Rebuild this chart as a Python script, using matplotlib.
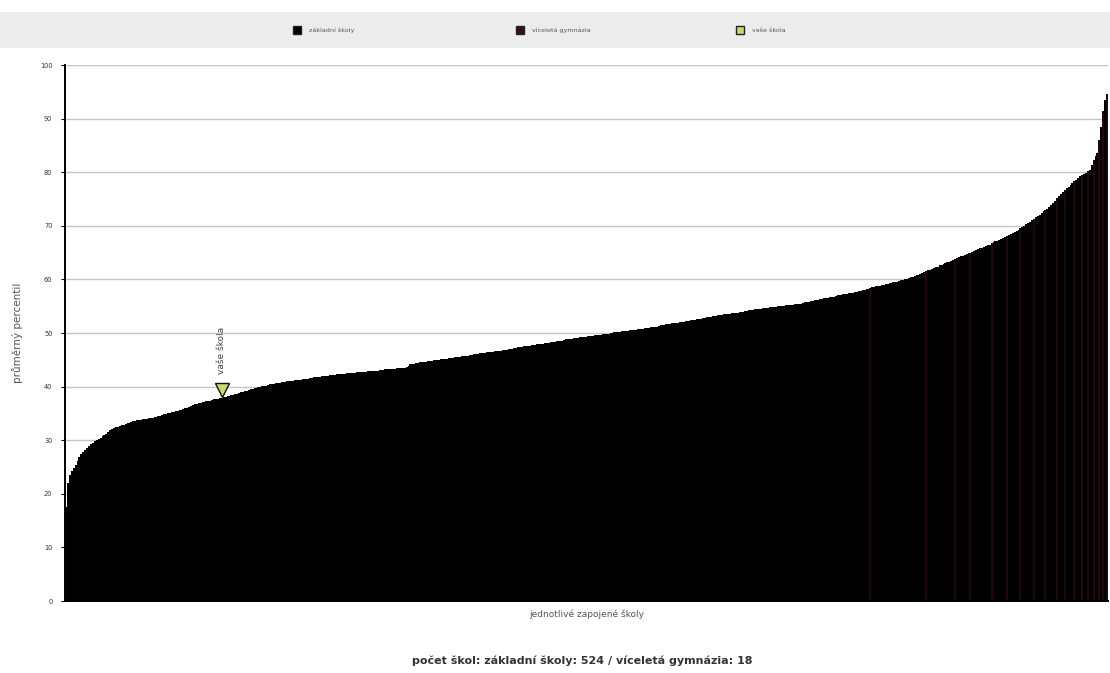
import numpy as np
import matplotlib
matplotlib.use('Agg')
import matplotlib.pyplot as plt
from matplotlib.patches import Rectangle

# average percentile of each school, sorted ascending (542 schools)
prumer = [
    17.5, 22.0, 23.5, 24.2, 24.8, 25.3, 26.1, 26.9, 27.4, 27.8, 28.2, 28.6, 28.9, 29.2, 29.5, 29.8, 30.0, 30.3, 30.5, 30.8,
    31.0, 31.2, 31.5, 31.9, 32.0, 32.2, 32.4, 32.5, 32.7, 32.8, 32.9, 33.0, 33.2, 33.3, 33.4, 33.5, 33.6, 33.7, 33.8, 33.8,
    33.9, 34.0, 34.0, 34.1, 34.2, 34.2, 34.3, 34.4, 34.5, 34.6, 34.7, 34.8, 34.9, 35.0, 35.1, 35.2, 35.3, 35.4, 35.5, 35.6,
    35.7, 35.8, 36.0, 36.1, 36.2, 36.4, 36.6, 36.7, 36.8, 36.9, 37.0, 37.1, 37.2, 37.3, 37.4, 37.4, 37.5, 37.6, 37.7, 37.7,
    37.8, 37.9, 38.0, 38.1, 38.2, 38.3, 38.4, 38.5, 38.6, 38.7, 38.8, 38.9, 39.0, 39.1, 39.2, 39.3, 39.5, 39.6, 39.7, 39.8,
    39.9, 40.0, 40.1, 40.1, 40.2, 40.3, 40.4, 40.4, 40.5, 40.6, 40.6, 40.7, 40.8, 40.9, 40.9, 41.0, 41.0, 41.1, 41.1, 41.2,
    41.2, 41.3, 41.3, 41.4, 41.4, 41.5, 41.5, 41.6, 41.6, 41.7, 41.7, 41.8, 41.8, 41.9, 41.9, 42.0, 42.0, 42.1, 42.1, 42.2,
    42.2, 42.3, 42.3, 42.3, 42.4, 42.4, 42.5, 42.5, 42.5, 42.6, 42.6, 42.7, 42.7, 42.7, 42.8, 42.8, 42.8, 42.9, 42.9, 42.9,
    43.0, 43.0, 43.0, 43.1, 43.1, 43.1, 43.2, 43.2, 43.2, 43.3, 43.3, 43.3, 43.4, 43.4, 43.4, 43.5, 43.5, 43.6, 43.9, 44.2,
    44.3, 44.3, 44.4, 44.4, 44.5, 44.5, 44.6, 44.6, 44.7, 44.8, 44.8, 44.9, 44.9, 45.0, 45.0, 45.1, 45.1, 45.2, 45.2, 45.3,
    45.4, 45.4, 45.5, 45.5, 45.6, 45.6, 45.7, 45.7, 45.8, 45.8, 45.9, 45.9, 46.0, 46.0, 46.1, 46.2, 46.2, 46.3, 46.3, 46.4,
    46.4, 46.5, 46.5, 46.6, 46.6, 46.7, 46.7, 46.8, 46.9, 46.9, 47.0, 47.0, 47.1, 47.2, 47.2, 47.3, 47.3, 47.4, 47.5, 47.5,
    47.6, 47.6, 47.7, 47.7, 47.8, 47.9, 47.9, 48.0, 48.0, 48.1, 48.2, 48.2, 48.3, 48.3, 48.4, 48.5, 48.5, 48.6, 48.6, 48.7,
    48.8, 48.8, 48.9, 48.9, 49.0, 49.1, 49.1, 49.2, 49.2, 49.3, 49.3, 49.4, 49.4, 49.5, 49.5, 49.6, 49.6, 49.7, 49.7, 49.8,
    49.8, 49.9, 49.9, 50.0, 50.0, 50.1, 50.1, 50.2, 50.2, 50.3, 50.3, 50.4, 50.4, 50.5, 50.5, 50.6, 50.6, 50.7, 50.7, 50.8,
    50.8, 50.9, 50.9, 51.0, 51.1, 51.1, 51.2, 51.2, 51.3, 51.4, 51.4, 51.5, 51.6, 51.6, 51.7, 51.8, 51.8, 51.9, 51.9, 52.0,
    52.1, 52.1, 52.2, 52.3, 52.3, 52.4, 52.5, 52.5, 52.6, 52.6, 52.7, 52.8, 52.8, 52.9, 53.0, 53.0, 53.1, 53.2, 53.2, 53.3,
    53.3, 53.4, 53.5, 53.5, 53.6, 53.6, 53.7, 53.7, 53.8, 53.8, 53.9, 54.0, 54.0, 54.1, 54.1, 54.2, 54.2, 54.3, 54.4, 54.4,
    54.5, 54.5, 54.6, 54.6, 54.7, 54.7, 54.8, 54.8, 54.9, 54.9, 55.0, 55.0, 55.1, 55.1, 55.2, 55.2, 55.3, 55.3, 55.3, 55.4,
    55.4, 55.5, 55.5, 55.6, 55.7, 55.8, 55.8, 55.9, 56.0, 56.1, 56.2, 56.2, 56.3, 56.4, 56.5, 56.5, 56.6, 56.7, 56.8, 56.8,
    56.9, 57.0, 57.1, 57.1, 57.2, 57.3, 57.3, 57.4, 57.4, 57.5, 57.6, 57.7, 57.8, 57.9, 58.0, 58.1, 58.2, 58.3, 58.4, 58.5,
    58.6, 58.7, 58.8, 58.8, 58.9, 59.0, 59.1, 59.2, 59.3, 59.4, 59.5, 59.6, 59.6, 59.7, 59.8, 59.9, 60.0, 60.1, 60.3, 60.4,
    60.5, 60.6, 60.8, 60.9, 61.1, 61.2, 61.4, 61.5, 61.7, 61.8, 62.0, 62.1, 62.3, 62.4, 62.6, 62.7, 62.9, 63.0, 63.2, 63.3,
    63.5, 63.6, 63.8, 63.9, 64.1, 64.3, 64.4, 64.6, 64.7, 64.9, 65.0, 65.2, 65.3, 65.5, 65.6, 65.8, 65.9, 66.0, 66.2, 66.4,
    66.5, 66.7, 66.9, 67.1, 67.2, 67.4, 67.6, 67.8, 68.0, 68.1, 68.3, 68.5, 68.7, 68.8, 69.0, 69.3, 69.5, 69.8, 70.0, 70.3,
    70.5, 70.8, 71.1, 71.3, 71.6, 71.9, 72.1, 72.4, 72.7, 72.9, 73.2, 73.5, 73.9, 74.3, 74.7, 75.1, 75.5, 75.9, 76.3, 76.6,
    77.0, 77.3, 77.7, 78.0, 78.3, 78.6, 78.9, 79.2, 79.4, 79.7, 79.9, 80.2, 80.5, 81.3, 82.2, 83.0, 83.5, 86.0, 88.5, 91.5,
    93.5, 94.5,
]

# positions (in sorted order) of the víceletá gymnázia
gymnazia_idx = [418, 447, 462, 470, 481, 489, 496, 503, 509, 515, 519, 524, 528, 531, 534, 537, 539, 541]

# your school
vase_idx = 81
vase_hodnota = 39.4

pocet_zs = 524
pocet_gym = 18

C_ZS = '#000000'
C_GYM = '#22060f'
C_VASE = '#c9d96a'
TXT = '#555555'

fig = plt.figure(figsize=(11.1, 6.73), dpi=100)
fig.set_facecolor('white')

# legend strip
fig.patches.append(Rectangle((0, 1 - 48/673), 1, 36/673, transform=fig.transFigure,
                             facecolor='#ececec', edgecolor='none', zorder=0))
leg_y = 1 - 30/673
for xs, col, txt in [(297, C_ZS, 'základní školy'),
                     (520, '#3a0c20', 'víceletá gymnázia'),
                     (740, C_VASE, 'vaše škola')]:
    fig.patches.append(Rectangle((xs/1110 - 4/1110, leg_y - 4/673), 8/1110, 8/673,
                                 transform=fig.transFigure, facecolor=col,
                                 edgecolor='#222222', lw=1.0, zorder=2))
    fig.text((xs + 12)/1110, leg_y, txt, fontsize=4.6, color=TXT, va='center', ha='left')

ax = fig.add_axes([65/1110, 72/673, 1043/1110, 536/673])

x = np.arange(len(prumer))
barve = [C_GYM if i in gymnazia_idx else C_ZS for i in x]
ax.bar(x, prumer, width=1.0, color=barve, edgecolor='none', align='edge', zorder=2)

ax.set_xlim(0, len(prumer))
ax.set_ylim(0, 100)
ax.set_yticks(np.arange(0, 101, 10))
ax.yaxis.grid(True, color='#c4c4c4', lw=1.0, zorder=0)
ax.set_axisbelow(True)
ax.tick_params(axis='y', labelsize=4.8, labelcolor='#333333', length=3, width=0.8, pad=6)
ax.set_xticks([])
for s in ['top', 'right']:
    ax.spines[s].set_visible(False)
ax.spines['left'].set_linewidth(1.4)
ax.spines['bottom'].set_linewidth(1.4)

# your school marker
ax.plot(vase_idx + 0.5, vase_hodnota, marker='v', markersize=10, color=C_VASE,
        markeredgecolor='#111111', markeredgewidth=1.0, zorder=5, clip_on=False)
ax.text(vase_idx + 0.5, vase_hodnota + 3.0, 'vaše škola', rotation=90, fontsize=6.5,
        color='#444444', ha='center', va='bottom', zorder=5)

ax.set_ylabel('průměrný percentil', fontsize=7.5, color=TXT, labelpad=12)
ax.set_xlabel('jednotlivé zapojené školy', fontsize=6.5, color=TXT, labelpad=6)

fig.text(582/1110, 1 - 661/673,
         'počet škol: základní školy: %d / víceletá gymnázia: %d' % (pocet_zs, pocet_gym),
         fontsize=8, fontweight='bold', color='#333333', ha='center', va='center')

fig.savefig('out.png', dpi=100, facecolor='white')
